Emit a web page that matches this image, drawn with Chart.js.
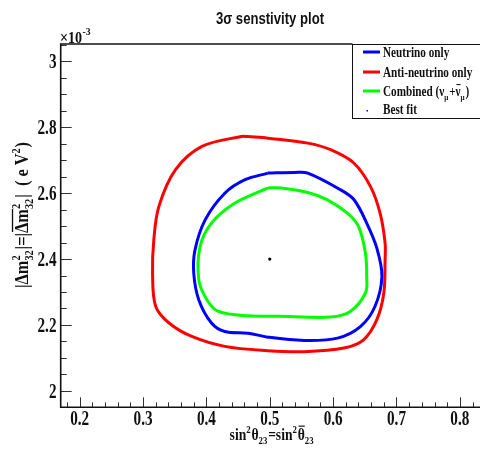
<!DOCTYPE html>
<html>
<head>
<meta charset="utf-8">
<script src="https://cdn.jsdelivr.net/npm/chart.js@4.4.0/dist/chart.umd.min.js"></script>
<style>
  html, body { margin: 0; padding: 0; background: #fff; overflow: hidden; }
  canvas { display: block; }
</style>
</head>
<body>
<canvas id="chart" width="480" height="450"></canvas>
<script>
// --- Data ---
const xTicks = [0.2, 0.3, 0.4, 0.5, 0.6, 0.7, 0.8];
const yTicks = [2, 2.2, 2.4, 2.6, 2.8, 3];

const neutrinoX = [0.497, 0.539, 0.560, 0.612, 0.633, 0.653, 0.669, 0.677, 0.666, 0.643, 0.607, 0.554, 0.497, 0.466, 0.429, 0.408, 0.388, 0.380, 0.382, 0.398, 0.429, 0.461, 0.497];
const neutrinoY = [2.661, 2.663, 2.661, 2.610, 2.580, 2.509, 2.433, 2.347, 2.256, 2.195, 2.160, 2.153, 2.163, 2.175, 2.180, 2.206, 2.276, 2.357, 2.428, 2.519, 2.600, 2.641, 2.661];

const antiX = [0.466, 0.497, 0.560, 0.596, 0.633, 0.659, 0.674, 0.682, 0.682, 0.680, 0.669, 0.648, 0.617, 0.554, 0.497, 0.429, 0.377, 0.341, 0.320, 0.315, 0.317, 0.325, 0.351, 0.393, 0.455, 0.466];
const antiY = [2.772, 2.767, 2.752, 2.732, 2.691, 2.620, 2.540, 2.449, 2.398, 2.297, 2.216, 2.155, 2.130, 2.119, 2.122, 2.135, 2.165, 2.206, 2.256, 2.357, 2.459, 2.560, 2.671, 2.742, 2.772, 2.772];

const combinedX = [0.497, 0.518, 0.560, 0.591, 0.622, 0.640, 0.651, 0.653, 0.651, 0.627, 0.596, 0.528, 0.466, 0.419, 0.401, 0.388, 0.390, 0.408, 0.445, 0.497];
const combinedY = [2.616, 2.616, 2.602, 2.580, 2.540, 2.499, 2.418, 2.347, 2.297, 2.241, 2.224, 2.226, 2.228, 2.241, 2.276, 2.337, 2.438, 2.509, 2.570, 2.616];

const bestFitX = [0.5];
const bestFitY = [2.4];

const toPoints = (xs, ys) => xs.map((x, i) => ({ x: x, y: ys[i] }));

// --- Text helpers (ROOT-like condensed fonts) ---
function drawText(ctx, s, x, y, font, align, sx) {
    ctx.save();
    ctx.font = font;
    ctx.translate(x, y);
    ctx.scale(sx, 1);
    ctx.textAlign = align;
    ctx.textBaseline = 'alphabetic';
    ctx.fillText(s, 0, 0);
    ctx.restore();
}

// items: plain strings, {ol: 'text'} for overlined text, {sup, sub} for stacked scripts
function drawRich(ctx, items, x, y, size, bold, sx, align) {
    const F = s => (bold ? 'bold ' : '') + s + 'px "Liberation Serif"';
    const small = Math.round(size * 0.65);
    const widthOf = it => {
        if (typeof it === 'string') { ctx.font = F(size); return ctx.measureText(it).width; }
        if (it.ol) { ctx.font = F(size); return ctx.measureText(it.ol).width; }
        ctx.font = F(small);
        return Math.max(it.sup ? ctx.measureText(it.sup).width : 0,
                        it.sub ? ctx.measureText(it.sub).width : 0) + 1;
    };
    const total = items.reduce((a, it) => a + widthOf(it), 0);
    ctx.save();
    ctx.translate(x, y);
    ctx.scale(sx, 1);
    ctx.textAlign = 'left';
    ctx.textBaseline = 'alphabetic';
    let cx = align === 'center' ? -total / 2 : (align === 'right' ? -total : 0);
    items.forEach(it => {
        const w = widthOf(it);
        if (typeof it === 'string') {
            ctx.font = F(size);
            ctx.fillText(it, cx, 0);
        } else if (it.ol) {
            ctx.font = F(size);
            ctx.fillText(it.ol, cx, 0);
            ctx.fillRect(cx + 1, -size * 0.85, w - 1, Math.max(1, size * 0.07));
        } else {
            ctx.font = F(small);
            if (it.sup) ctx.fillText(it.sup, cx, -size * 0.42);
            if (it.sub) ctx.fillText(it.sub, cx, size * 0.25);
        }
        cx += w;
    });
    ctx.restore();
}

// --- Frame, ticks, labels, title and legend ---
const rootStyle = {
    id: 'rootStyle',
    afterDraw(chart) {
        const ctx = chart.ctx;
        const area = chart.chartArea;
        const xs = chart.scales.x;
        const ys = chart.scales.y;
        ctx.save();

        // ticks (pointing inward)
        ctx.strokeStyle = '#333';
        ctx.lineWidth = 1;
        ctx.beginPath();
        for (let v = 0.18; v <= 0.83; v += 0.02) {
            const major = Math.abs(v * 10 - Math.round(v * 10)) < 1e-6;
            const px = Math.round(xs.getPixelForValue(v)) + 0.5;
            ctx.moveTo(px, area.bottom);
            ctx.lineTo(px, area.bottom - (major ? 10 : 5));
        }
        for (let v = 1.95; v <= 3.06; v += 0.05) {
            const major = Math.abs(v * 5 - Math.round(v * 5)) < 1e-6;
            const py = Math.round(ys.getPixelForValue(v)) + 0.5;
            ctx.moveTo(area.left, py);
            ctx.lineTo(area.left + (major ? 11 : 6), py);
        }
        ctx.stroke();

        // legend box
        const lx = 352.5, ly = 44.5;
        ctx.fillStyle = '#fff';
        ctx.fillRect(lx, ly, 480 - lx + 2, 74);
        ctx.strokeStyle = '#111';
        ctx.lineWidth = 1;
        ctx.strokeRect(lx, ly, 480 - lx + 5, 74);

        // frame
        ctx.strokeStyle = '#111';
        ctx.lineWidth = 1.6;
        ctx.beginPath();
        ctx.moveTo(lx, area.top);
        ctx.lineTo(area.left, area.top);
        ctx.lineTo(area.left, area.bottom);
        ctx.lineTo(482, area.bottom);
        ctx.stroke();

        // tick labels
        ctx.fillStyle = '#111';
        const tickFont = 'bold 20px "Liberation Serif"';
        yTicks.forEach(v => {
            drawText(ctx, String(v), 56.5, ys.getPixelForValue(v) + 7, tickFont, 'right', 0.76);
        });
        xTicks.forEach(v => {
            drawText(ctx, String(v), xs.getPixelForValue(v), 425, tickFont, 'center', 0.76);
        });

        // exponent label
        drawText(ctx, '\u00d710', 60, 43, 'bold 16px "Liberation Serif"', 'left', 0.88);
        drawText(ctx, '-3', 82.5, 35, 'bold 11px "Liberation Serif"', 'left', 0.88);

        // title
        drawText(ctx, '3\u03c3 senstivity plot', 270, 24, 'bold 16px "Liberation Sans"', 'center', 0.82);

        // axis titles
        drawRich(ctx, ['sin', { sup: '2' }, '\u03b8', { sub: '23' }, '=sin', { sup: '2' }, { ol: '\u03b8' }, { sub: '23' }],
            272, 440, 17, true, 0.8, 'center');
        ctx.save();
        ctx.translate(22, 215);
        ctx.rotate(-Math.PI / 2);
        drawRich(ctx, ['|\u0394m', { sup: '2', sub: '32' }, '|=|', { ol: '\u0394m' }, { sup: '2', sub: '32' }, '|  ( e V', { sup: '2' }, ')'],
            0, 6, 19, true, 0.86, 'center');
        ctx.restore();

        // legend entries
        const entries = [
            { color: '#0000ff', y: 52, items: ['Neutrino only'] },
            { color: '#ff0000', y: 72, items: ['Anti-neutrino only'] },
            { color: '#00ff00', y: 91, items: ['Combined (\u03bd', { sub: '\u03bc' }, '+', { ol: '\u03bd' }, { sub: '\u03bc' }, ')'] },
            { color: null, y: 109, items: ['Best fit'] }
        ];
        entries.forEach(e => {
            if (e.color) {
                ctx.fillStyle = e.color;
                ctx.fillRect(363, e.y - 1.5, 17, 3);
            } else {
                ctx.fillStyle = '#0000ff';
                ctx.fillRect(366.5, e.y + 1, 1.5, 1.5);
            }
            ctx.fillStyle = '#111';
            drawRich(ctx, e.items, 383, e.y + 5, 14, true, 0.8, 'left');
        });

        ctx.restore();
    }
};

const lineSet = (label, pts, color) => ({
    label: label,
    data: pts,
    showLine: true,
    borderColor: color,
    backgroundColor: color,
    borderWidth: 3,
    pointRadius: 0,
    tension: 0.35,
    fill: false
});

new Chart(document.getElementById('chart'), {
    type: 'scatter',
    data: {
        datasets: [
            lineSet('Neutrino only', toPoints(neutrinoX, neutrinoY), '#0000ff'),
            lineSet('Anti-neutrino only', toPoints(antiX, antiY), '#ff0000'),
            lineSet('Combined', toPoints(combinedX, combinedY), '#00ff00'),
            {
                label: 'Best fit',
                data: toPoints(bestFitX, bestFitY),
                showLine: false,
                pointRadius: 1.6,
                pointBorderWidth: 0,
                backgroundColor: '#000'
            }
        ]
    },
    options: {
        responsive: false,
        animation: false,
        layout: { padding: { top: 44, left: 0, right: 0, bottom: 0 } },
        plugins: {
            legend: { display: false },
            title: { display: false },
            tooltip: { enabled: false }
        },
        scales: {
            x: {
                type: 'linear',
                min: 0.17,
                max: 0.8255,
                grid: { display: false, drawTicks: false },
                border: { display: false },
                ticks: { display: false },
                afterFit: s => { s.height = 42.7; }
            },
            y: {
                type: 'linear',
                min: 1.95,
                max: 3.053,
                grid: { display: false, drawTicks: false },
                border: { display: false },
                ticks: { display: false },
                afterFit: s => { s.width = 60.7; }
            }
        }
    },
    plugins: [rootStyle]
});
</script>
</body>
</html>
